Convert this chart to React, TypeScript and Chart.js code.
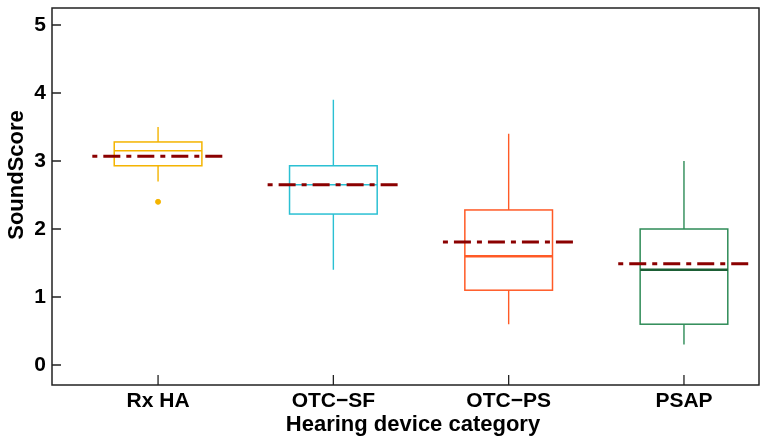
import React, { useEffect, useRef } from "react";
import { Chart, registerables } from "chart.js";
Chart.register(...registerables);

// ---- data ----
const categories = ["Rx HA", "OTC\u2212SF", "OTC\u2212PS", "PSAP"];
const whiskerLow = [2.7, 1.4, 0.6, 0.3];
const q1 = [2.93, 2.22, 1.1, 0.6];
const medians = [3.15, 2.65, 1.6, 1.4];
const q3 = [3.28, 2.93, 2.28, 2.0];
const whiskerHigh = [3.5, 3.9, 3.4, 3.0];
const means = [3.07, 2.65, 1.81, 1.49];
const outlierCategory = [1];
const outlierValues = [2.4];
const yTicks = [0, 1, 2, 3, 4, 5];
const xTicks = [1, 2, 3, 4];

// ---- styles ----
const boxColors = ["#F4B400", "#2BC0D3", "#FF5A26", "#2E8B57"];
const medianColors = ["#F4B400", "#2BC0D3", "#FF5A26", "#1B5E35"];
const medianWidths = [1.5, 1.5, 2.5, 2.5];
const meanColor = "#8B0000";
const FONT = "'Liberation Sans', Arial, sans-serif";
const BOX_HALF = 0.25;
const MEAN_HALF = 0.375;

const boxPlugin = {
  id: "boxplot",
  beforeDatasetsDraw(chart: any) {
    const { ctx, scales } = chart;
    const xs = scales.x;
    const ys = scales.y;
    ctx.save();
    categories.forEach((_, i) => {
      const c = i + 1;
      const xc = xs.getPixelForValue(c);
      const xl = xs.getPixelForValue(c - BOX_HALF);
      const xr = xs.getPixelForValue(c + BOX_HALF);
      const yq1 = ys.getPixelForValue(q1[i]);
      const yq3 = ys.getPixelForValue(q3[i]);
      const ymed = ys.getPixelForValue(medians[i]);
      const ylo = ys.getPixelForValue(whiskerLow[i]);
      const yhi = ys.getPixelForValue(whiskerHigh[i]);
      ctx.strokeStyle = boxColors[i];
      ctx.lineWidth = 1.4;
      ctx.beginPath();
      ctx.moveTo(xc, yq3);
      ctx.lineTo(xc, yhi);
      ctx.moveTo(xc, yq1);
      ctx.lineTo(xc, ylo);
      ctx.stroke();
      ctx.lineWidth = 1.5;
      ctx.strokeRect(xl, yq3, xr - xl, yq1 - yq3);
      ctx.strokeStyle = medianColors[i];
      ctx.lineWidth = medianWidths[i];
      ctx.beginPath();
      ctx.moveTo(xl, ymed);
      ctx.lineTo(xr, ymed);
      ctx.stroke();
    });
    ctx.restore();
  },
  afterDraw(chart: any) {
    const { ctx, chartArea, scales } = chart;
    const { left, right, top, bottom } = chartArea;
    ctx.save();
    ctx.strokeStyle = "#222";
    ctx.lineWidth = 1.5;
    ctx.strokeRect(left, top, right - left, bottom - top);
    ctx.lineWidth = 1.3;
    ctx.beginPath();
    yTicks.forEach((v) => {
      const y = scales.y.getPixelForValue(v);
      ctx.moveTo(left, y);
      ctx.lineTo(left + 9, y);
    });
    xTicks.forEach((v) => {
      const x = scales.x.getPixelForValue(v);
      ctx.moveTo(x, bottom);
      ctx.lineTo(x, bottom - 10);
    });
    ctx.stroke();
    // axis titles
    ctx.fillStyle = "#000";
    ctx.font = `bold 22px ${FONT}`;
    ctx.textAlign = "center";
    ctx.textBaseline = "alphabetic";
    ctx.fillText("Hearing device category", 413, 431);
    ctx.translate(23, 175);
    ctx.rotate(-Math.PI / 2);
    ctx.fillText("SoundScore", 0, 0);
    ctx.restore();
  },
};

export default function App() {
  const ref = useRef<HTMLCanvasElement | null>(null);
  useEffect(() => {
    if (!ref.current) return;
    const meanSets = means.map((m, i) => ({
      type: "line" as const,
      label: `Mean ${categories[i]}`,
      data: [
        { x: i + 1 - MEAN_HALF, y: m },
        { x: i + 1 + MEAN_HALF, y: m },
      ],
      borderColor: meanColor,
      borderWidth: 3,
      borderDash: [5, 6, 17, 6],
      pointRadius: 0,
      fill: false,
    }));
    const chart = new Chart(ref.current, {
      type: "scatter",
      data: {
        datasets: [
          ...meanSets,
          {
            type: "scatter" as const,
            label: "Outliers",
            data: outlierValues.map((v, i) => ({ x: outlierCategory[i], y: v })),
            backgroundColor: boxColors[0],
            borderColor: boxColors[0],
            pointRadius: 2.5,
          },
        ] as any,
      },
      options: {
        animation: false,
        responsive: true,
        maintainAspectRatio: false,
        layout: { padding: { top: 8, right: 6, left: 0, bottom: 0 } },
        plugins: { legend: { display: false }, tooltip: { enabled: false } },
        scales: {
          x: {
            type: "linear",
            min: 0.395,
            max: 4.428,
            grid: { display: false, drawTicks: false },
            border: { display: false },
            afterBuildTicks: (s: any) => {
              s.ticks = xTicks.map((v) => ({ value: v }));
            },
            afterFit: (s: any) => {
              s.height = 59;
              s.paddingLeft = 0;
              s.paddingRight = 0;
            },
            ticks: {
              autoSkip: false,
              maxRotation: 0,
              padding: 4,
              color: "#000",
              font: { family: FONT, size: 21, weight: "bold" },
              callback: (v: any) => categories[Number(v) - 1] ?? "",
            },
          },
          y: {
            type: "linear",
            min: -0.294,
            max: 5.25,
            grid: { display: false, drawTicks: false },
            border: { display: false },
            afterBuildTicks: (s: any) => {
              s.ticks = yTicks.map((v) => ({ value: v }));
            },
            afterFit: (s: any) => {
              s.width = 52;
              s.paddingTop = 0;
              s.paddingBottom = 0;
            },
            ticks: {
              padding: 6,
              color: "#000",
              font: { family: FONT, size: 21, weight: "bold" },
            },
          },
        },
      } as any,
      plugins: [boxPlugin],
    });
    return () => chart.destroy();
  }, []);
  return (
    <div style={{ position: "fixed", left: 0, top: 0, width: 765, height: 444, background: "#fff" }}>
      <canvas ref={ref} />
    </div>
  );
}
